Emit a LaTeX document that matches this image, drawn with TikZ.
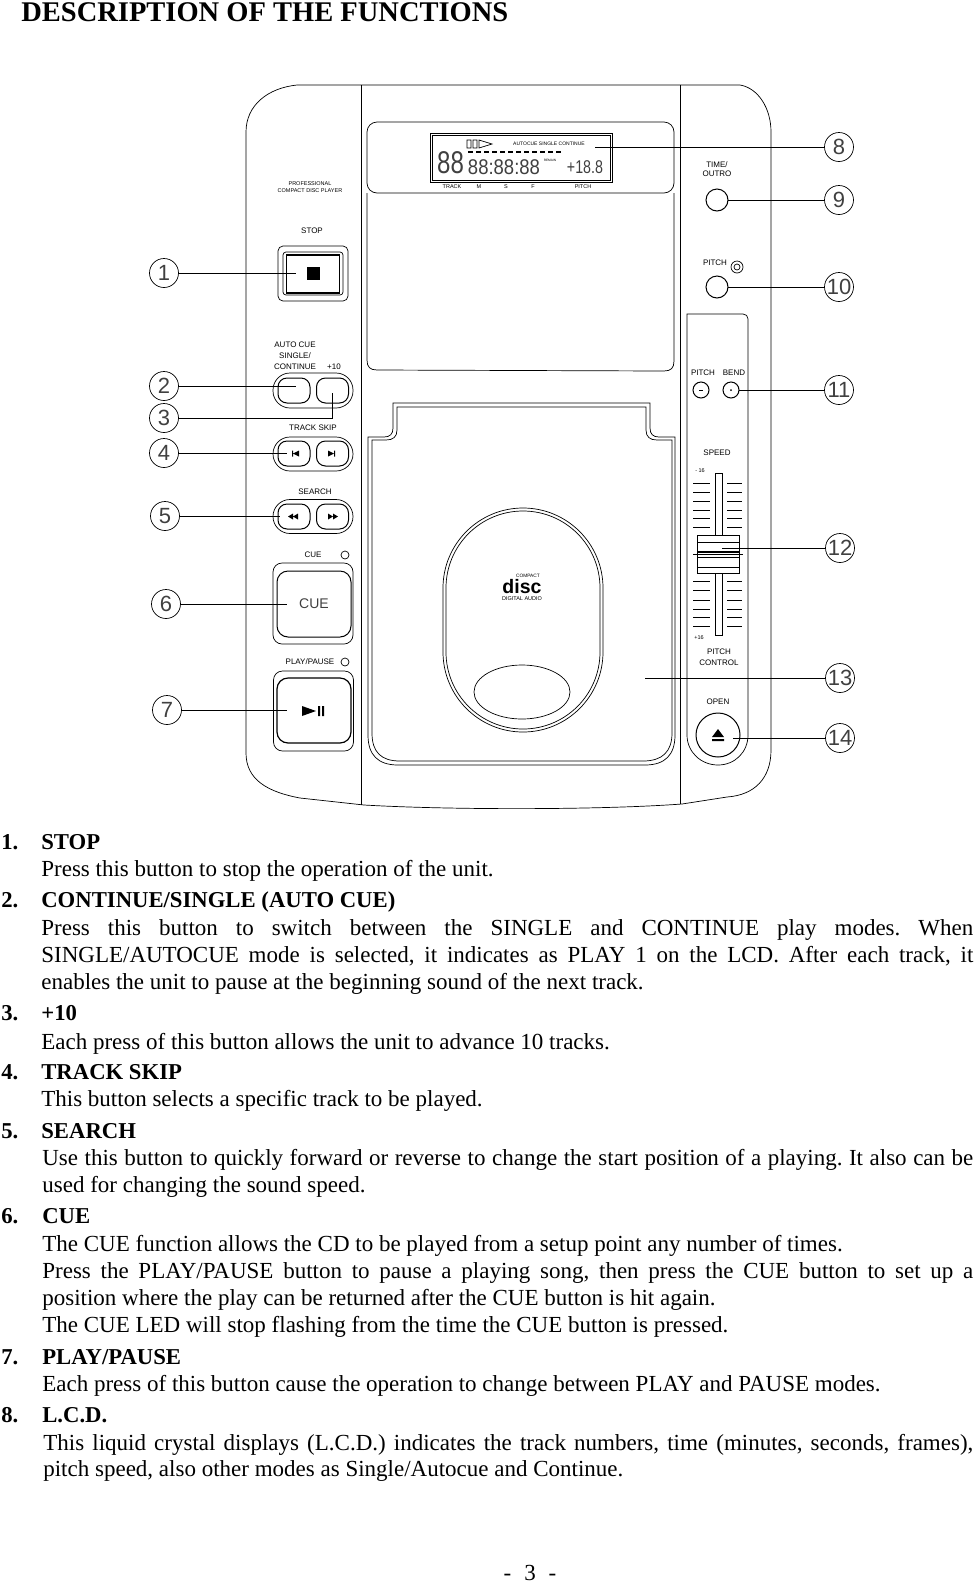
\documentclass[tikz,border=0pt]{standalone}
\usepackage{fontspec}
\setmainfont{Liberation Serif}
\newfontfamily\panelfont{Liberation Sans}
\usepackage{tikz}
\usetikzlibrary{positioning}

\newcommand{\jline}[2]{\makebox[#1pt][s]{#2}}
\frenchspacing

\tikzset{
    callout/.style={circle, draw, minimum size=29pt, inner sep=0pt, text=black!75, font=\panelfont\fontsize{22}{22}\selectfont},
    panellabel/.style={inner sep=0pt, font=\panelfont\fontsize{8}{9}\selectfont},
    tinylabel/.style={inner sep=0pt, font=\panelfont\fontsize{5.5}{6.5}\selectfont},
    keybox/.style={draw, rounded corners=#1, inner sep=0pt},
    keybox/.default=6pt,
    roundkey/.style={circle, draw, line width=1pt, inner sep=0pt},
    lead/.style={line width=0.7pt},
    headline/.style={anchor=west, inner sep=0pt, yshift=-3pt, text height=16pt, text depth=5pt, font=\bfseries\fontsize{22.7}{26}\selectfont},
    bodyline/.style={anchor=west, inner sep=0pt, yshift=-3pt, text height=16pt, text depth=5pt, font=\fontsize{23}{26}\selectfont},
    lcdtext/.style={inner sep=0pt, text=black!75, font=\panelfont\fontsize{18.5}{18.5}\selectfont}
}

\begin{document}
\begin{tikzpicture}[x=1pt, y=-1pt, line width=0.7pt]
    \useasboundingbox (0,0) rectangle (974,1583);

    % title
    \node[inner sep=0pt, anchor=west, font=\bfseries\fontsize{28.5}{30}\selectfont] at (21,12) (title) {DESCRIPTION OF THE FUNCTIONS};

    % body of the player
    \draw (297,85) -- (740,85) .. controls (758,88) and (771,108) .. (771,132) -- (771,750)
        .. controls (771,778) and (755,795) .. (727,797) -- (682,804)
        .. controls (600,810) and (450,810) .. (364,805) -- (300,798)
        .. controls (268,792) and (246,780) .. (246,753) -- (246,132)
        .. controls (246,105) and (268,88) .. (297,85) -- cycle;
    \draw (361,85) -- (361,805);
    \draw (680,85) -- (680,804);

    % lcd panel
    \node[keybox=10pt, minimum width=307pt, minimum height=71pt] at (520.5,157.5) (lcd_panel) {};
    \draw (367,193) -- (367,360) .. controls (367,367) and (370,370) .. (377,370) -- (664,371)
        .. controls (671,371) and (674,368) .. (674,361) -- (674,193);
    \node[draw, minimum width=182pt, minimum height=49pt, inner sep=0pt] at (521,157.5) (lcd) {};
    \node[draw, minimum width=178pt, minimum height=45pt, inner sep=0pt, line width=0.4pt] at (521,157.5) (lcd_in) {};
    \node[tinylabel, font=\panelfont\fontsize{5}{6}\selectfont] at (549,144) (lcd_modes) {AUTOCUE SINGLE CONTINUE};
    \draw (467,140) rectangle (471,148) (473,140) rectangle (477,148) (479,140) -- (492,144) -- (479,148) -- cycle;
    \foreach \dx in {468,476,...,556}
        \draw[line width=1.2pt] (\dx,152) -- (\dx+5,152);
    \node[lcdtext] at (450.5,163) (lcd_track) {\scalebox{1.3}[1.7]{88}};
    \node[lcdtext] at (504,167) (lcd_time) {\scalebox{1}[1.15]{88:88:88}};
    \node[tinylabel, font=\panelfont\fontsize{3.2}{4}\selectfont] at (550,160) (lcd_remain) {REMAIN};
    \node[lcdtext] at (585,167) (lcd_pitch) {\scalebox{.77}[1]{+18.8}};
    \node[tinylabel] at (452,187) (lcd_t) {TRACK};
    \node[tinylabel] at (479,187) (lcd_m) {M};
    \node[tinylabel] at (506,187) (lcd_s) {S};
    \node[tinylabel] at (533,187) (lcd_f) {F};
    \node[tinylabel] at (583,187) (lcd_p) {PITCH};

    % left column
    \node[tinylabel, align=center] at (310,187) (brand) {PROFESSIONAL\\COMPACT DISC PLAYER};
    \node[panellabel] at (312,231) (l_stop) {STOP};
    \node[keybox=5pt, minimum width=70pt, minimum height=55pt] at (313,273.5) (stop_a) {};
    \node[keybox=3pt, minimum width=60pt, minimum height=43pt] at (313,273.5) (stop_b) {};
    \node[draw, line width=1.2pt, minimum width=53pt, minimum height=38pt, inner sep=0pt] at (313,274) (b_stop) {};
    \fill (307,267) rectangle (320,280);

    \node[panellabel] at (295,345) (l_auto) {AUTO CUE};
    \node[panellabel] at (295,356) (l_single) {SINGLE/};
    \node[panellabel] at (295,367) (l_cont) {CONTINUE};
    \node[panellabel] at (334,367) (l_ten) {+10};
    \node[keybox=17pt, minimum width=80pt, minimum height=35pt] at (313,390.5) (pair_a) {};
    \node[keybox=9pt, line width=1pt, minimum width=32pt, minimum height=25pt] at (294,390.5) (b_auto) {};
    \node[keybox=9pt, line width=1pt, minimum width=32pt, minimum height=25pt] at (332.5,390.5) (b_ten) {};

    \node[panellabel] at (313,428) (l_skip) {TRACK SKIP};
    \node[keybox=17pt, minimum width=80pt, minimum height=34pt] at (313,454) (pair_b) {};
    \node[keybox=9pt, line width=1pt, minimum width=32pt, minimum height=25pt] at (294,453.5) (b_back) {};
    \node[keybox=9pt, line width=1pt, minimum width=32pt, minimum height=25pt] at (332.5,453.5) (b_next) {};
    \fill (292,450.5) rectangle (293,456.5) (293,453.5) -- (299,450.5) -- (299,456.5) -- cycle;
    \fill (328,450.5) -- (334,453.5) -- (328,456.5) -- cycle (334,450.5) rectangle (335,456.5);

    \node[panellabel] at (315,492) (l_search) {SEARCH};
    \node[keybox=17pt, minimum width=80pt, minimum height=34pt] at (313,516.5) (pair_c) {};
    \node[keybox=9pt, line width=1pt, minimum width=32pt, minimum height=25pt] at (294,516.5) (b_rew) {};
    \node[keybox=9pt, line width=1pt, minimum width=32pt, minimum height=25pt] at (332.5,516.5) (b_fwd) {};
    \fill (288,516.5) -- (293,513.5) -- (293,519.5) -- cycle (293,516.5) -- (298,513.5) -- (298,519.5) -- cycle;
    \fill (328,513.5) -- (333,516.5) -- (328,519.5) -- cycle (333,513.5) -- (338,516.5) -- (333,519.5) -- cycle;

    \node[panellabel] at (313,555) (l_cue) {CUE};
    \node[circle, draw, minimum size=8pt, inner sep=0pt] at (345,555) (led_cue) {};
    \node[keybox=9pt, minimum width=80pt, minimum height=81pt] at (313,603.5) (cue_a) {};
    \node[keybox=11pt, line width=1pt, minimum width=74pt, minimum height=66pt, text=black!75, font=\panelfont\fontsize{14}{14}\selectfont] at (314,604) (b_cue) {CUE};

    \node[panellabel] at (310,662) (l_play) {PLAY/PAUSE};
    \node[circle, draw, minimum size=8pt, inner sep=0pt] at (345,662) (led_play) {};
    \node[keybox=9pt, minimum width=80pt, minimum height=80pt] at (313.5,711) (play_a) {};
    \node[keybox=11pt, line width=1.2pt, minimum width=74pt, minimum height=65pt] at (314,710.5) (b_play) {};
    \fill (302,706) -- (316,711) -- (302,716) -- cycle (318,706) rectangle (320,716) (322,706) rectangle (324,716);

    % right column
    \node[panellabel, align=center] at (717,169) (l_time) {TIME/\\OUTRO};
    \node[roundkey, minimum size=22pt] at (717,200) (b_time) {};
    \node[panellabel] at (715,263) (l_pitch) {PITCH};
    \node[circle, draw, minimum size=12pt, inner sep=0pt] at (737,267) (led_pitch) {};
    \node[circle, draw, minimum size=6pt, inner sep=0pt] at (737,267) (led_pitch_in) {};
    \node[roundkey, minimum size=22pt] at (717,287) (b_pitch) {};

    \draw (687,314) -- (743,314) .. controls (746,314) and (748,316) .. (748,319) -- (748,735)
        .. controls (748,752) and (735,765) .. (718,765) .. controls (701,765) and (687,752) .. (687,735) -- cycle;
    \node[panellabel] at (703,373) (l_bend_a) {PITCH};
    \node[panellabel] at (734,373) (l_bend_b) {BEND};
    \node[roundkey, minimum size=16pt] at (701,390) (b_minus) {};
    \node[roundkey, minimum size=16pt] at (731,390) (b_plus) {};
    \draw (699,390) -- (703,390);
    \fill (731,390) circle (1pt);

    \node[panellabel] at (717,453) (l_speed) {SPEED};
    \node[tinylabel] at (700,471) (l_minus) {- 16};
    \draw (715,473) rectangle (722,635);
    \foreach \ty in {483,492,501,510,518,527,581,590,600,609,617,626}
        \draw (693,\ty) -- (710,\ty) (727,\ty) -- (742,\ty);
    \node[draw, fill=white, minimum width=42pt, minimum height=38pt, inner sep=0pt] at (718,554) (fader) {};
    \draw (697,542) -- (739,542);
    \draw[line width=1.2pt] (697,552) -- (739,552);
    \draw (697,557) -- (739,557) (697,567) -- (739,567);
    \draw (693,554) -- (743,554);
    \node[tinylabel] at (699,638) (l_plus) {+16};
    \node[panellabel] at (719,652) (l_ctrl_a) {PITCH};
    \node[panellabel] at (719,663) (l_ctrl_b) {CONTROL};
    \node[panellabel] at (718,702) (l_open) {OPEN};
    \node[roundkey, minimum size=44pt] at (718,735) (b_open) {};
    \fill (712,737) -- (718,729) -- (724,737) -- cycle (712,739) rectangle (724,741);

    % disc tray
    \draw (393,403) -- (650,403) -- (650,428) .. controls (650,434) and (653,437) .. (659,437) -- (675,437)
        -- (675,735) .. controls (675,755) and (665,765) .. (645,765) -- (398,765)
        .. controls (378,765) and (368,755) .. (368,735) -- (368,437) -- (384,437)
        .. controls (390,437) and (393,434) .. (393,428) -- cycle;
    \draw (397,407) -- (646,407) -- (646,430) .. controls (646,437) and (650,440) .. (657,440) -- (672,440)
        -- (672,733) .. controls (672,752) and (662,761) .. (643,761) -- (400,761)
        .. controls (381,761) and (372,752) .. (372,733) -- (372,440) -- (386,440)
        .. controls (393,440) and (397,437) .. (397,430) -- cycle;
    \node[keybox=80pt, minimum width=160pt, minimum height=224pt] at (523,620) (lid_a) {};
    \node[keybox=77pt, minimum width=154pt, minimum height=218pt] at (523,620) (lid_b) {};
    \draw (522,692) ellipse (48 and 27);
    \node[tinylabel, font=\panelfont\fontsize{4.8}{5}\selectfont] at (528,576) (l_compact) {COMPACT};
    \node[inner sep=0pt, font=\panelfont\bfseries\fontsize{19.5}{19.5}\selectfont] at (522,587) (l_disc) {disc};
    \node[tinylabel] at (522,599) (l_audio) {DIGITAL AUDIO};

    % callouts
    \foreach \n/\px/\py in {1/164/273, 2/164/386, 3/164/418, 4/164/453, 5/165/516, 6/166/604, 7/167/710,
        8/839/147, 9/839/200, 10/839/287, 11/839/390, 12/840/548, 13/840/678, 14/840/738}
        \node[callout] at (\px,\py) (c_\n) {\n};

    \coordinate (e_1) at (296,273);
    \coordinate (e_2) at (296,386);
    \coordinate (e_3) at (332,393);
    \coordinate (e_4) at (287,453);
    \coordinate (e_5) at (280,516);
    \coordinate (e_6) at (287,604);
    \coordinate (e_7) at (287,710);
    \coordinate (e_8) at (595,147);
    \coordinate (e_9) at (728,200);
    \coordinate (e_10) at (728,287);
    \coordinate (e_11) at (739,390);
    \coordinate (e_12) at (722,548);
    \coordinate (e_13) at (645,678);
    \coordinate (e_14) at (733,738);

    \draw[lead] (c_1) -- (e_1);
    \draw[lead] (c_2) -- (e_2);
    \draw[lead] (c_3) -| (e_3);
    \draw[lead] (c_4) -- (e_4);
    \draw[lead] (c_5) -- (e_5);
    \draw[lead] (c_6) -- (e_6);
    \draw[lead] (c_7) -- (e_7);
    \draw[lead] (c_8) -- (e_8);
    \draw[lead] (c_9) -- (e_9);
    \draw[lead] (c_10) -- (e_10);
    \draw[lead] (c_11) -- (e_11);
    \draw[lead] (c_12) -- (e_12);
    \draw[lead] (c_13) -- (e_13);
    \draw[lead] (c_14) -- (e_14);

    % description
    \node[headline] at (1,841) (n_1) {1.};
    \node[headline] at (41,841) (h_1) {STOP};
    \node[bodyline] at (41,868) (t_1) {Press this button to stop the operation of the unit.};
    \node[headline] at (1,899) (n_2) {2.};
    \node[headline] at (41,899) (h_2) {CONTINUE/SINGLE (AUTO CUE)};
    \node[bodyline] at (41,927) (t_2a) {\jline{932}{Press this button to switch between the SINGLE and CONTINUE play modes. When}};
    \node[bodyline] at (41,954) (t_2b) {\jline{932}{SINGLE/AUTOCUE mode is selected, it indicates as PLAY 1 on the LCD. After each track, it}};
    \node[bodyline] at (41,981) (t_2c) {enables the unit to pause at the beginning sound of the next track.};
    \node[headline] at (1,1012) (n_3) {3.};
    \node[headline] at (41,1012) (h_3) {+10};
    \node[bodyline] at (41,1041) (t_3) {Each press of this button allows the unit to advance 10 tracks.};
    \node[headline] at (1,1071) (n_4) {4.};
    \node[headline] at (41,1071) (h_4) {TRACK SKIP};
    \node[bodyline] at (41,1098) (t_4) {This button selects a specific track to be played.};
    \node[headline] at (1,1130) (n_5) {5.};
    \node[headline] at (41,1130) (h_5) {SEARCH};
    \node[bodyline] at (42,1157) (t_5a) {\jline{931}{Use this button to quickly forward or reverse to change the start position of a playing. It also can be}};
    \node[bodyline] at (42,1184) (t_5b) {used for changing the sound speed.};
    \node[headline] at (1,1215) (n_6) {6.};
    \node[headline] at (42,1215) (h_6) {CUE};
    \node[bodyline] at (42,1243) (t_6a) {The CUE function allows the CD to be played from a setup point any number of times.};
    \node[bodyline] at (42,1270) (t_6b) {\jline{931}{Press the PLAY/PAUSE button to pause a playing song, then press the CUE button to set up a}};
    \node[bodyline] at (42,1297) (t_6c) {position where the play can be returned after the CUE button is hit again.};
    \node[bodyline] at (42,1324) (t_6d) {The CUE LED will stop flashing from the time the CUE button is pressed.};
    \node[headline] at (1,1356) (n_7) {7.};
    \node[headline] at (42,1356) (h_7) {PLAY/PAUSE};
    \node[bodyline] at (42,1383) (t_7) {Each press of this button cause the operation to change between PLAY and PAUSE modes.};
    \node[headline] at (1,1414) (n_8) {8.};
    \node[headline] at (42,1414) (h_8) {L.C.D.};
    \node[bodyline] at (43,1442) (t_8a) {\jline{930}{This liquid crystal displays (L.C.D.) indicates the track numbers, time (minutes, seconds, frames),}};
    \node[bodyline] at (43,1468) (t_8b) {pitch speed, also other modes as Single/Autocue and Continue.};
    \node[bodyline, anchor=center, text depth=0pt] at (530,1569) (page) {-\hspace{13pt}3\hspace{13pt}-};
\end{tikzpicture}
\end{document}
